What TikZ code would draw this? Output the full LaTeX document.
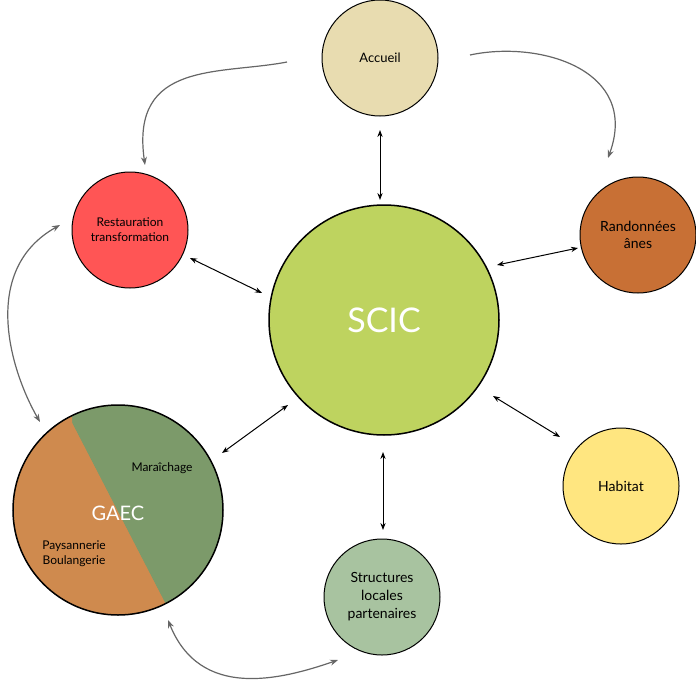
\documentclass[tikz,border=0pt]{standalone}
\usepackage{fontspec}
\setmainfont{Lato}
\usetikzlibrary{arrows.meta}
\definecolor{scic}{HTML}{BED35F}
\definecolor{acc}{HTML}{E8DCB0}
\definecolor{rest}{HTML}{FF5555}
\definecolor{rando}{HTML}{C87035}
\definecolor{hab}{HTML}{FFE680}
\definecolor{struc}{HTML}{A8C3A0}
\definecolor{gorange}{HTML}{CF8A4E}
\definecolor{ggreen}{HTML}{7C9A6A}
\begin{document}
\begin{tikzpicture}[x=1pt,y=-1pt,
  sat/.style={circle,draw=black,line width=1pt,minimum size=116pt,inner sep=0pt,align=center,font=\fontsize{13}{15}\selectfont},
  blk/.style={{Stealth[length=7pt]}-{Stealth[length=7pt]},line width=1pt},
  gry/.style={-{Stealth[length=8pt]},draw=black!60,line width=1.2pt}]
\useasboundingbox (0,0) rectangle (696,688);
\node[sat,fill=scic,minimum size=230pt,line width=1.5pt,font=\fontsize{34}{36}\selectfont\color{white}] (scic) at (384,320) {SCIC};
\node[sat,fill=acc] (acc) at (380,58) {Accueil};
\node[sat,fill=rest,font=\fontsize{12}{15}\selectfont] (rest) at (130,230) {Restauration\\transformation};
\node[sat,fill=rando,font=\fontsize{14}{17}\selectfont] (rando) at (638,235) {Randonnées\\ânes};
\node[sat,fill=hab,font=\fontsize{14}{17}\selectfont] (hab) at (621,486) {Habitat};
\node[sat,fill=struc,font=\fontsize{14}{18}\selectfont] (struc) at (382,597) {Structures\\locales\\partenaires};
% GAEC
\begin{scope}
\clip (118,510) circle (105);
\fill[ggreen] (0,380) rectangle (240,640);
\fill[gorange] (0,380) -- (72,380) -- (72,423) -- (165,603) -- (180,640) -- (0,640) -- cycle;
\fill[gorange] (72,423) -- (165,603) -- (180,640) -- (0,640) -- (0,380) -- (50,380) -- cycle;
\end{scope}
\node[circle,draw=black,line width=1.5pt,minimum size=210pt,inner sep=0pt] (gaec) at (118,510) {};
\node[font=\fontsize{20}{22}\selectfont\color{white}] at (118,513) {GAEC};
\node[font=\fontsize{12}{14}\selectfont] at (162,468) {Maraîchage};
\node[font=\fontsize{12}{15}\selectfont,align=center] at (74,554) {Paysannerie\\Boulangerie};
% black arrows
\coordinate (a1) at (380,130); \coordinate (a2) at (380,200);
\draw[blk] (a1) -- (a2);
\coordinate (b1) at (190,258); \coordinate (b2) at (262,293);
\draw[blk] (b1) -- (b2);
\coordinate (c1) at (497,265); \coordinate (c2) at (578,248);
\draw[blk] (c1) -- (c2);
\coordinate (d1) at (493,396); \coordinate (d2) at (560,437);
\draw[blk] (d1) -- (d2);
\coordinate (e1) at (383,452); \coordinate (e2) at (383,530);
\draw[blk] (e1) -- (e2);
\coordinate (f1) at (222,453); \coordinate (f2) at (288,405);
\draw[blk] (f1) -- (f2);
% gray curves
\coordinate (g1) at (287,62); \coordinate (g2) at (145,165);
\draw[gry] (g1) .. controls (220,75) and (130,60) .. (g2);
\coordinate (h1) at (470,55); \coordinate (h2) at (608,158);
\draw[gry] (h1) .. controls (540,40) and (640,70) .. (h2);
\coordinate (i1) at (60,225); \coordinate (i2) at (40,422);
\draw[gry,{Stealth[length=8pt]}-{Stealth[length=8pt]}] (i1) .. controls (-20,270) and (10,370) .. (i2);
\coordinate (j1) at (168,620); \coordinate (j2) at (338,660);
\draw[gry,{Stealth[length=8pt]}-{Stealth[length=8pt]}] (j1) .. controls (200,700) and (280,680) .. (j2);
\end{tikzpicture}
\end{document}
